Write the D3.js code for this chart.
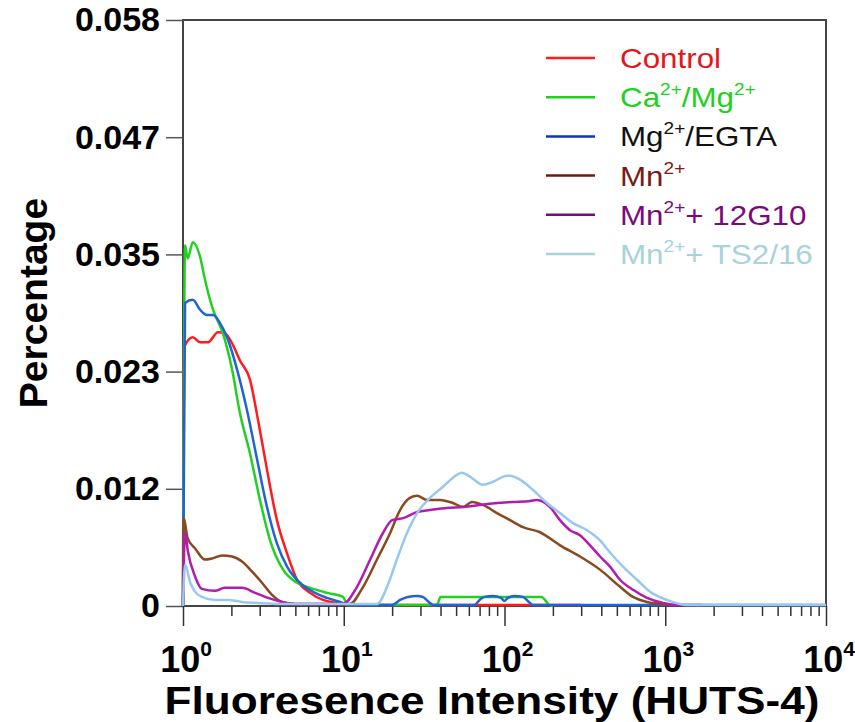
<!DOCTYPE html>
<html><head><meta charset="utf-8">
<script src="https://cdn.jsdelivr.net/npm/d3@7"></script>
<style>body{margin:0;background:#fff}</style>
</head><body>
<svg id="c" width="855" height="722"></svg>
<script>
// ---------- data ----------
const seriesNames = ["Control","Ca/Mg","Mg/EGTA","Mn","Mn+12G10","Mn+TS2/16"];
const control = [[1,0],[1.01,0.0255],[1.15,0.0266],[1.28,0.0261],[1.43,0.0261],[1.65,0.0271],[1.82,0.027],[2.05,0.0258],[2.26,0.0243],[2.61,0.0224],[2.93,0.0184],[3.33,0.0135],[3.84,0.0085],[4.44,0.0052],[5.12,0.0026],[6.17,0.0013],[7.43,0.0006],[9.08,0.0003],[11,0.0001],[300,0.0001]];
const caMg = [[1,0],[1.03,0.0357],[1.07,0.0344],[1.15,0.036],[1.28,0.0345],[1.37,0.0323],[1.54,0.0293],[1.77,0.027],[2.02,0.0234],[2.26,0.0191],[2.61,0.0151],[3.01,0.0105],[3.48,0.0065],[4.19,0.0036],[5.12,0.0023],[6.17,0.0018],[7.87,0.0013],[9.89,0.0009],[10.6,0.0001],[38,0.0001],[40,0.0009],[170,0.0009],[190,0.0001],[200,0]];
const mgEgta = [[1,0],[1.03,0.030],[1.15,0.0303],[1.28,0.0293],[1.41,0.0288],[1.54,0.0288],[1.70,0.028],[1.91,0.0263],[2.17,0.0234],[2.50,0.0194],[2.89,0.0145],[3.33,0.0098],[3.84,0.0062],[4.44,0.0039],[5.34,0.0023],[6.44,0.0014],[7.87,0.0008],[9.48,0.0004],[11,0.0001],[20,0.0001],[22.4,0.0006],[25,0.0009],[28.6,0.001],[31,0.0009],[34.4,0.0003],[36,0.0001],[65,0.0001],[70,0.0006],[75,0.0009],[85,0.001],[95,0.0008],[100,0.0005],[105,0.0008],[115,0.001],[130,0.0009],[144,0.0003],[150,0.0001],[10000,0.0001]];
const mn = [[1,0],[1.01,0.0087],[1.07,0.0067],[1.19,0.0057],[1.37,0.0046],[1.51,0.0047],[1.75,0.005],[2.02,0.0049],[2.33,0.0044],[2.69,0.0034],[3.10,0.0023],[3.58,0.0011],[4.13,0.0004],[4.98,0.0002],[10.9,0.0002],[13.2,0.0019],[16.1,0.0046],[19.4,0.0072],[22.4,0.0095],[25.8,0.0107],[28.6,0.0109],[33,0.0105],[39.7,0.0105],[47.8,0.0102],[55.2,0.0098],[62.8,0.0103],[73.5,0.01],[89.8,0.0092],[108.2,0.0085],[130.3,0.0078],[166.3,0.0073],[221.4,0.006],[294.9,0.0049],[392.8,0.0036],[523.1,0.0019],[630.2,0.0009],[770,0.0004],[927.6,0.0002],[1100,0.0001]];
const mn12G10 = [[1,0],[1.03,0.0073],[1.07,0.0055],[1.19,0.0029],[1.31,0.0017],[1.58,0.0015],[1.82,0.0018],[2.33,0.0018],[2.81,0.0013],[3.38,0.0008],[4.13,0.0004],[4.98,0.0002],[9.89,0.0002],[12.1,0.0019],[14.6,0.0046],[17.5,0.0072],[20.0,0.0085],[23.4,0.0087],[28.6,0.0093],[34.4,0.0095],[43.9,0.0097],[55.2,0.0098],[70.4,0.01],[89.8,0.0102],[112.9,0.0103],[144.1,0.0104],[159.3,0.0105],[191.9,0.0098],[221.4,0.0085],[255.6,0.0075],[294.9,0.007],[340.4,0.006],[392.8,0.0049],[453.3,0.0039],[523.1,0.0026],[630.2,0.0016],[770,0.0008],[968,0.0003],[1183,0.0001],[1700,0.0001]];
const mnTS216 = [[1,0],[1.03,0.0041],[1.11,0.0023],[1.19,0.0014],[1.31,0.0009],[1.58,0.0006],[1.91,0.0006],[2.33,0.0004],[2.93,0.0003],[4,0.0002],[16.1,0.0002],[18.6,0.0019],[21.4,0.0046],[24.7,0.0072],[28.6,0.0092],[34.4,0.0107],[41.4,0.0118],[47.8,0.0127],[54.4,0.0132],[61,0.0128],[73.5,0.012],[84.8,0.0123],[103.7,0.0129],[108.2,0.0129],[124.9,0.0125],[150,0.0115],[183.8,0.0102],[221.4,0.0092],[266.8,0.0082],[326.1,0.0075],[392.8,0.0065],[453.3,0.0053],[546,0.0039],[667.3,0.0026],[803.8,0.0014],[1025,0.0006],[1366,0.0001],[10000,0.0001]];
const yTickValues = [0,0.0116,0.0232,0.0348,0.0464,0.058];
const yTickLabels = ["0","0.012","0.023","0.035","0.047","0.058"];
const xTickValues = [1,10,100,1000,10000];
const xTickExponents = ["0","1","2","3","4"];

// ---------- styling ----------
const lineColors = ["#ff1c1c","#22d022","#1f63d6","#8b4a1e","#b01cb0","#98c8f0"];
const legendLineColors = ["#ff1c1c","#22d022","#0a32d0","#6e1a12","#7a0a7a","#a8d2dc"];
const legendTextColors = ["#e8141c","#22d022","#111111","#7a1a14","#7a0a7a","#a8d2dc"];
const seriesData = [control, caMg, mgEgta, mn, mn12G10, mnTS216];

const svg = d3.select("#c");
const x = d3.scaleLog().domain([1,10000]).range([183,826]);
const y = d3.scaleLinear().domain([0,0.058]).range([606,20]);
const FONT = "Liberation Sans, Arial, sans-serif";

// frame
svg.append("rect").attr("x",183).attr("y",20).attr("width",643).attr("height",586)
  .attr("fill","none").attr("stroke","#444").attr("stroke-width",2);

// y axis
const yAxis = svg.append("g").attr("transform","translate(183,0)")
  .call(d3.axisLeft(y).tickValues(yTickValues).tickSize(17).tickPadding(6)
    .tickFormat((d,i)=>yTickLabels[i]));
yAxis.select(".domain").remove();
yAxis.selectAll(".tick line").attr("stroke","#555").attr("stroke-width",1.5);
yAxis.selectAll(".tick text").attr("font-family",FONT).attr("font-weight","bold")
  .attr("font-size",34).attr("fill","#000");

// x axis minor ticks
const minor = [];
for (let e=0;e<4;e++) for (let m=2;m<10;m++) minor.push(m*Math.pow(10,e));
const xMinor = svg.append("g").attr("transform","translate(0,606)")
  .call(d3.axisBottom(x).tickValues(minor).tickSize(10).tickFormat(""));
xMinor.select(".domain").remove();
xMinor.selectAll(".tick line").attr("stroke","#333").attr("stroke-width",1.5);
const xMajor = svg.append("g").attr("transform","translate(0,606)")
  .call(d3.axisBottom(x).tickValues(xTickValues).tickSize(20).tickFormat(""));
xMajor.select(".domain").remove();
xMajor.selectAll(".tick line").attr("stroke","#333").attr("stroke-width",1.5);

// x tick labels (10^n)
xTickValues.forEach((v,i)=>{
  const t = svg.append("text").attr("x",x(v)+3).attr("y",672).attr("text-anchor","middle")
    .attr("font-family",FONT).attr("font-weight","bold").attr("font-size",36);
  t.append("tspan").text("10");
  t.append("tspan").attr("dy",-16).attr("font-size",21).text(xTickExponents[i]);
});

// lines
const line = d3.line().x(d=>x(d[0])).y(d=>y(d[1])).curve(d3.curveMonotoneX);
seriesData.forEach((s,i)=>{
  svg.append("path").datum(s).attr("d",line).attr("fill","none")
    .attr("stroke",lineColors[i]).attr("stroke-width",2.5).attr("stroke-linejoin","round");
});

// axis titles
svg.append("text").attr("transform","translate(47,303) rotate(-90)").attr("text-anchor","middle")
  .attr("font-family",FONT).attr("font-weight","bold").attr("font-size",39).text("Percentage");
svg.append("text").attr("x",492).attr("y",714).attr("text-anchor","middle")
  .attr("font-family",FONT).attr("font-weight","bold").attr("font-size",39)
  .attr("textLength",655).attr("lengthAdjust","spacingAndGlyphs")
  .text("Fluoresence Intensity (HUTS-4)");

// legend
const legendParts = [
  [["Control",0]],
  [["Ca",0],["2+",1],["/Mg",0],["2+",1]],
  [["Mg",0],["2+",1],["/EGTA",0]],
  [["Mn",0],["2+",1]],
  [["Mn",0],["2+",1],["+ 12G10",0]],
  [["Mn",0],["2+",1],["+ TS2/16",0]]
];
const leg = svg.append("g");
legendParts.forEach((parts,i)=>{
  const cy = 58 + i*39.2;
  leg.append("line").attr("x1",546).attr("x2",595).attr("y1",cy).attr("y2",cy)
    .attr("stroke",legendLineColors[i]).attr("stroke-width",2.5);
  const t = leg.append("text").attr("transform",`translate(620,${cy+10}) scale(1.12,1)`)
    .attr("font-family",FONT).attr("font-size",28).attr("fill",legendTextColors[i]);
  let up = false;
  parts.forEach(([s,sup])=>{
    const ts = t.append("tspan").text(s);
    if (sup && !up){ ts.attr("dy",-12).attr("font-size",17); up=true; }
    else if (!sup && up){ ts.attr("dy",12); up=false; }
    else if (sup) ts.attr("font-size",17);
  });
});
</script>
</body></html>
